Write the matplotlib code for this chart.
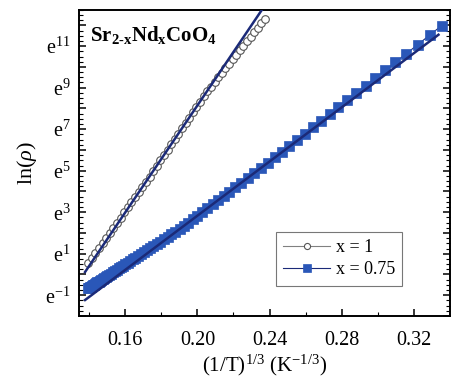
import matplotlib
matplotlib.use("Agg")
import matplotlib.pyplot as plt
from matplotlib.ticker import FixedLocator, MultipleLocator, FuncFormatter

plt.rcParams['font.family'] = ['Liberation Serif', 'DejaVu Serif']
plt.rcParams['mathtext.fontset'] = 'custom'
plt.rcParams['mathtext.rm'] = 'Liberation Serif'
plt.rcParams['mathtext.it'] = 'Liberation Serif:italic'
plt.rcParams['mathtext.bf'] = 'Liberation Serif:bold'

# x = 1 (open circles)
x1 = [0.1395, 0.1415, 0.1435, 0.1455, 0.1475, 0.1495, 0.1515, 0.1535, 0.1555, 0.1575,
      0.1595, 0.1615, 0.1635, 0.1655, 0.1675, 0.1695, 0.1715, 0.1735, 0.1755, 0.1775,
      0.1795, 0.1815, 0.1835, 0.1855, 0.1875, 0.1895, 0.1915, 0.1935, 0.1955, 0.1975,
      0.1995, 0.2015, 0.2035, 0.2055, 0.2075, 0.2095, 0.2115, 0.2135, 0.2155, 0.2175,
      0.2195, 0.2215, 0.2235, 0.2255, 0.2275, 0.2295, 0.2315, 0.2335, 0.2355, 0.2375]
y1 = [0.54, 0.78, 1.03, 1.27, 1.52, 1.76, 2.01, 2.25, 2.50, 2.74,
      2.99, 3.23, 3.48, 3.72, 3.96, 4.21, 4.46, 4.72, 4.98, 5.24,
      5.50, 5.75, 6.01, 6.27, 6.53, 6.78, 7.04, 7.30, 7.56, 7.82,
      8.07, 8.33, 8.59, 8.84, 9.05, 9.27, 9.49, 9.71, 9.93, 10.14,
      10.36, 10.58, 10.80, 11.02, 11.23, 11.45, 11.67, 11.89, 12.10, 12.32]

# x = 0.75 (filled squares)
x2 = [0.1395, 0.1400, 0.1405, 0.1410, 0.1415, 0.1421, 0.1427, 0.1433, 0.1439, 0.1446,
      0.1453, 0.1460, 0.1468, 0.1476, 0.1484, 0.1493, 0.1502, 0.1511, 0.1521, 0.1531,
      0.1542, 0.1553, 0.1564, 0.1576, 0.1588, 0.1601, 0.1614, 0.1628, 0.1642, 0.1657,
      0.1672, 0.1688, 0.1704, 0.1721, 0.1738, 0.1756, 0.1775, 0.1794, 0.1814, 0.1835,
      0.1856, 0.1878, 0.1901, 0.1925, 0.1949, 0.1974, 0.2000, 0.2027, 0.2055, 0.2084,
      0.2114, 0.2145, 0.2177, 0.2210, 0.2244, 0.2279, 0.2315, 0.2352, 0.2390, 0.2429,
      0.2469, 0.2510, 0.2552, 0.2595, 0.2640, 0.2686, 0.2733, 0.2781, 0.2830, 0.2880,
      0.2932, 0.2985, 0.3040, 0.3097, 0.3157, 0.3220, 0.3286, 0.3353]
y2 = [-0.67, -0.64, -0.61, -0.58, -0.56, -0.52, -0.49, -0.46, -0.42, -0.38,
      -0.34, -0.30, -0.26, -0.21, -0.17, -0.12, -0.07, -0.01, 0.04, 0.10,
      0.16, 0.22, 0.29, 0.35, 0.42, 0.49, 0.57, 0.65, 0.73, 0.81,
      0.89, 0.98, 1.07, 1.17, 1.27, 1.37, 1.48, 1.58, 1.69, 1.81,
      1.93, 2.06, 2.19, 2.34, 2.50, 2.66, 2.83, 3.01, 3.19, 3.38,
      3.58, 3.78, 3.99, 4.20, 4.43, 4.65, 4.89, 5.13, 5.38, 5.64,
      5.92, 6.20, 6.49, 6.78, 7.09, 7.41, 7.73, 8.06, 8.40, 8.74,
      9.10, 9.46, 9.84, 10.23, 10.64, 11.07, 11.53, 11.99]

# linear fits
fit1_x = [0.1378, 0.2365]
fit1_y = [0.12, 12.85]
fit2_x = [0.1378, 0.3335]
fit2_y = [-1.23, 11.55]

fig = plt.figure(figsize=(4.52, 3.78), dpi=100)
ax = fig.add_axes([0.175, 0.164, 0.821, 0.810])

ax.plot(x2, y2, '-', color='#1b2a78', lw=0.8, marker='s', ms=6.5, mfc='#2a57b8',
        mec='#2a57b8', mew=0.5, label='x = 0.75', zorder=2)
ax.plot(fit2_x, fit2_y, '-', color='#1b2a78', lw=1.8, zorder=3)

ax.plot(x1, y1, '-', color='#808080', lw=0.8, marker='o', ms=5.5, mfc='white',
        mec='#555555', mew=0.8, label='x = 1', zorder=2)
ax.plot(fit1_x, fit1_y, '-', color='#1b2a78', lw=1.8, zorder=3)

ax.set_xlim(0.1345, 0.340)
ax.set_ylim(-2.0, 12.75)

ax.xaxis.set_major_locator(FixedLocator([0.16, 0.20, 0.24, 0.28, 0.32]))
ax.xaxis.set_minor_locator(FixedLocator([0.14, 0.18, 0.22, 0.26, 0.30]))
ax.xaxis.set_major_formatter(FuncFormatter(lambda v, p: '%.2f' % v))

ax.yaxis.set_major_locator(MultipleLocator(1))
ax.yaxis.set_minor_locator(MultipleLocator(0.25))
ax.yaxis.set_major_formatter(FuncFormatter(
    lambda v, p: r'e$^{%d}$' % round(v) if round(v) % 2 == 1 else ''))

ax.tick_params(which='both', direction='in', top=False, right=True, labelsize=14.5)
ax.tick_params(axis='x', which='major', pad=11)
ax.tick_params(axis='y', which='major', pad=6)
ax.tick_params(which='major', length=5, width=1.1)
ax.tick_params(which='minor', length=3, width=0.8)
for s in ax.spines.values():
    s.set_linewidth(1.4)

ax.set_xlabel(r'(1/T)$^{1/3}$ (K$^{-1/3}$)', fontsize=15, labelpad=2)
ax.set_ylabel(r'ln($\rho$)', fontsize=16, labelpad=5)

ax.text(0.03, 0.955, r'$\mathbf{Sr_{2\text{-}x}Nd_{x}CoO_{4}}$', transform=ax.transAxes,
        fontsize=15, va='top', ha='left')

handles, labels = ax.get_legend_handles_labels()
leg = ax.legend(handles[::-1], labels[::-1], loc='lower right',
                bbox_to_anchor=(0.895, 0.07), fontsize=13, frameon=True,
                fancybox=False, edgecolor='#555555', handlelength=2.6,
                borderpad=0.4, labelspacing=0.3, handletextpad=0.3,
                markerscale=0.8)
leg.get_frame().set_linewidth(0.8)

fig.savefig('out.png', dpi=100)
